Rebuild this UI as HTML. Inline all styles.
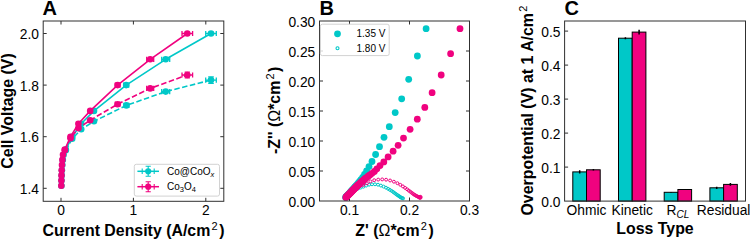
<!DOCTYPE html><html><head><meta charset="utf-8"><style>html,body{margin:0;padding:0;background:#fff;}svg{display:block;}text{font-family:"Liberation Sans",sans-serif;}</style></head><body>
<svg width="750" height="240" viewBox="0 0 750 240">
<rect width="750" height="240" fill="#fff"/>
<path d="M61.0,201.3v-3.5" stroke="#303030" stroke-width="1"/>
<path d="M61.0,21.0v3.5" stroke="#303030" stroke-width="1"/>
<path d="M133.4,201.3v-3.5" stroke="#303030" stroke-width="1"/>
<path d="M133.4,21.0v3.5" stroke="#303030" stroke-width="1"/>
<path d="M205.8,201.3v-3.5" stroke="#303030" stroke-width="1"/>
<path d="M205.8,21.0v3.5" stroke="#303030" stroke-width="1"/>
<path d="M43.2,188.3h3.5" stroke="#303030" stroke-width="1"/>
<path d="M223.8,188.3h-3.5" stroke="#303030" stroke-width="1"/>
<path d="M43.2,136.7h3.5" stroke="#303030" stroke-width="1"/>
<path d="M223.8,136.7h-3.5" stroke="#303030" stroke-width="1"/>
<path d="M43.2,85.1h3.5" stroke="#303030" stroke-width="1"/>
<path d="M223.8,85.1h-3.5" stroke="#303030" stroke-width="1"/>
<path d="M43.2,33.5h3.5" stroke="#303030" stroke-width="1"/>
<path d="M223.8,33.5h-3.5" stroke="#303030" stroke-width="1"/>
<polyline points="61.4,185.7 61.5,180.6 61.7,175.4 61.9,170.2 62.3,165.1 62.8,159.9 63.6,154.8 65.8,149.6 72.2,136.7 81.2,123.8 94.0,110.9 126.2,85.1 165.7,59.3 211.0,33.5" fill="none" stroke="#00c8c8" stroke-width="1.6" stroke-linejoin="round"/>
<polyline points="65.8,150.3 72.2,138.8 81.2,129.3 94.0,121.3 126.4,105.4 165.7,91.6 211.0,80.1" fill="none" stroke="#00c8c8" stroke-width="1.6" stroke-dasharray="5.5,2.5" stroke-linejoin="round"/>
<path d="M123.7,85.1H128.7M123.7,82.5V87.7M128.7,82.5V87.7" stroke="#00c8c8" stroke-width="1.3" fill="none"/>
<path d="M161.7,59.3H169.7M161.7,56.7V61.9M169.7,56.7V61.9" stroke="#00c8c8" stroke-width="1.3" fill="none"/>
<path d="M205.7,33.5H216.3M205.7,30.9V36.1M216.3,30.9V36.1" stroke="#00c8c8" stroke-width="1.3" fill="none"/>
<path d="M123.9,105.4H128.9M123.9,102.8V108.0M128.9,102.8V108.0" stroke="#00c8c8" stroke-width="1.3" fill="none"/>
<path d="M161.7,91.6H169.7M161.7,89.0V94.2M169.7,89.0V94.2" stroke="#00c8c8" stroke-width="1.3" fill="none"/>
<path d="M205.7,80.1H216.3M205.7,77.5V82.7M216.3,77.5V82.7" stroke="#00c8c8" stroke-width="1.3" fill="none"/>
<path d="M211.0,76.8V83.4M208.2,76.8H213.8M208.2,83.4H213.8" stroke="#00c8c8" stroke-width="1.3" fill="none"/>
<path d="M211.0,32.3V34.7M208.4,32.3H213.6M208.4,34.7H213.6" stroke="#00c8c8" stroke-width="1.3" fill="none"/>
<circle cx="61.4" cy="185.7" r="3.3" fill="#00c8c8"/>
<circle cx="61.5" cy="180.6" r="3.3" fill="#00c8c8"/>
<circle cx="61.7" cy="175.4" r="3.3" fill="#00c8c8"/>
<circle cx="61.9" cy="170.2" r="3.3" fill="#00c8c8"/>
<circle cx="62.3" cy="165.1" r="3.3" fill="#00c8c8"/>
<circle cx="62.8" cy="159.9" r="3.3" fill="#00c8c8"/>
<circle cx="63.6" cy="154.8" r="3.3" fill="#00c8c8"/>
<circle cx="65.8" cy="149.6" r="3.3" fill="#00c8c8"/>
<circle cx="72.2" cy="136.7" r="3.3" fill="#00c8c8"/>
<circle cx="81.2" cy="123.8" r="3.3" fill="#00c8c8"/>
<circle cx="94.0" cy="110.9" r="3.3" fill="#00c8c8"/>
<circle cx="126.2" cy="85.1" r="3.3" fill="#00c8c8"/>
<circle cx="165.7" cy="59.3" r="3.3" fill="#00c8c8"/>
<circle cx="211.0" cy="33.5" r="3.3" fill="#00c8c8"/>
<circle cx="65.8" cy="150.3" r="3.3" fill="#00c8c8"/>
<circle cx="72.2" cy="138.8" r="3.3" fill="#00c8c8"/>
<circle cx="81.2" cy="129.3" r="3.3" fill="#00c8c8"/>
<circle cx="94.0" cy="121.3" r="3.3" fill="#00c8c8"/>
<circle cx="126.4" cy="105.4" r="3.3" fill="#00c8c8"/>
<circle cx="165.7" cy="91.6" r="3.3" fill="#00c8c8"/>
<circle cx="211.0" cy="80.1" r="3.3" fill="#00c8c8"/>
<polyline points="61.3,185.7 61.4,180.6 61.5,175.4 61.7,170.2 62.0,165.1 62.4,159.9 63.0,154.8 64.8,149.6 70.5,136.7 78.4,123.8 90.2,110.9 117.6,85.1 150.2,59.3 187.3,33.5" fill="none" stroke="#f0027f" stroke-width="1.6" stroke-linejoin="round"/>
<polyline points="64.8,150.2 70.5,138.2 78.4,128.2 90.2,120.2 117.6,104.2 150.2,88.4 187.3,75.0" fill="none" stroke="#f0027f" stroke-width="1.6" stroke-dasharray="5.5,2.5" stroke-linejoin="round"/>
<path d="M115.3,85.1H119.9M115.3,82.5V87.7M119.9,82.5V87.7" stroke="#f0027f" stroke-width="1.3" fill="none"/>
<path d="M146.7,59.3H153.7M146.7,56.7V61.9M153.7,56.7V61.9" stroke="#f0027f" stroke-width="1.3" fill="none"/>
<path d="M182.0,33.5H192.6M182.0,30.9V36.1M192.6,30.9V36.1" stroke="#f0027f" stroke-width="1.3" fill="none"/>
<path d="M115.3,104.2H119.9M115.3,101.6V106.8M119.9,101.6V106.8" stroke="#f0027f" stroke-width="1.3" fill="none"/>
<path d="M146.7,88.4H153.7M146.7,85.8V91.0M153.7,85.8V91.0" stroke="#f0027f" stroke-width="1.3" fill="none"/>
<path d="M182.0,75.0H192.6M182.0,72.4V77.6M192.6,72.4V77.6" stroke="#f0027f" stroke-width="1.3" fill="none"/>
<path d="M187.3,72.1V77.9M184.7,72.1H189.9M184.7,77.9H189.9" stroke="#f0027f" stroke-width="1.3" fill="none"/>
<circle cx="61.3" cy="185.7" r="3.3" fill="#f0027f"/>
<circle cx="61.4" cy="180.6" r="3.3" fill="#f0027f"/>
<circle cx="61.5" cy="175.4" r="3.3" fill="#f0027f"/>
<circle cx="61.7" cy="170.2" r="3.3" fill="#f0027f"/>
<circle cx="62.0" cy="165.1" r="3.3" fill="#f0027f"/>
<circle cx="62.4" cy="159.9" r="3.3" fill="#f0027f"/>
<circle cx="63.0" cy="154.8" r="3.3" fill="#f0027f"/>
<circle cx="64.8" cy="149.6" r="3.3" fill="#f0027f"/>
<circle cx="70.5" cy="136.7" r="3.3" fill="#f0027f"/>
<circle cx="78.4" cy="123.8" r="3.3" fill="#f0027f"/>
<circle cx="90.2" cy="110.9" r="3.3" fill="#f0027f"/>
<circle cx="117.6" cy="85.1" r="3.3" fill="#f0027f"/>
<circle cx="150.2" cy="59.3" r="3.3" fill="#f0027f"/>
<circle cx="187.3" cy="33.5" r="3.3" fill="#f0027f"/>
<circle cx="64.8" cy="150.2" r="3.3" fill="#f0027f"/>
<circle cx="70.5" cy="138.2" r="3.3" fill="#f0027f"/>
<circle cx="78.4" cy="128.2" r="3.3" fill="#f0027f"/>
<circle cx="90.2" cy="120.2" r="3.3" fill="#f0027f"/>
<circle cx="117.6" cy="104.2" r="3.3" fill="#f0027f"/>
<circle cx="150.2" cy="88.4" r="3.3" fill="#f0027f"/>
<circle cx="187.3" cy="75.0" r="3.3" fill="#f0027f"/>
<rect x="43.2" y="21.0" width="180.60000000000002" height="180.3" fill="none" stroke="#303030" stroke-width="1"/>
<text x="61.0" y="215.0" font-size="13.8" text-anchor="middle" font-weight="normal" fill="#000" >0</text>
<text x="133.4" y="215.0" font-size="13.8" text-anchor="middle" font-weight="normal" fill="#000" >1</text>
<text x="205.8" y="215.0" font-size="13.8" text-anchor="middle" font-weight="normal" fill="#000" >2</text>
<text x="39.0" y="193.9" font-size="13.8" text-anchor="end" font-weight="normal" fill="#000" >1.4</text>
<text x="39.0" y="142.3" font-size="13.8" text-anchor="end" font-weight="normal" fill="#000" >1.6</text>
<text x="39.0" y="90.7" font-size="13.8" text-anchor="end" font-weight="normal" fill="#000" >1.8</text>
<text x="39.0" y="39.1" font-size="13.8" text-anchor="end" font-weight="normal" fill="#000" >2.0</text>
<text x="133.5" y="236.0" font-size="15.9" text-anchor="middle" font-weight="bold" fill="#000" >Current Density (A/cm<tspan font-size="11" dy="-6" dx="1.2" font-weight="normal">2</tspan><tspan dy="6" dx="1.5">)</tspan></text>
<text transform="translate(12.8,111) rotate(-90)" font-size="15.9" text-anchor="middle" font-weight="bold">Cell Voltage (V)</text>
<text x="42.6" y="14.9" font-size="20" text-anchor="start" font-weight="bold" fill="#000" >A</text>
<rect x="134.3" y="164.3" width="85.2" height="31.8" rx="2" ry="2" fill="#fff" fill-opacity="0.8" stroke="#d2d2d2" stroke-width="1"/>
<path d="M137.39999999999998,171.3H159.0" stroke="#00c8c8" stroke-width="1.5" fill="none"/>
<path d="M148.2,166.3V176.3M142.2,168.5V174.10000000000002M154.2,168.5V174.10000000000002M145.6,166.3h5.2M145.6,176.3h5.2" stroke="#00c8c8" stroke-width="1.1" fill="none"/>
<circle cx="148.2" cy="171.3" r="3.1" fill="#00c8c8"/>
<path d="M137.39999999999998,186.7H159.0" stroke="#f0027f" stroke-width="1.5" fill="none"/>
<path d="M148.2,181.7V191.7M142.2,183.89999999999998V189.5M154.2,183.89999999999998V189.5M145.6,181.7h5.2M145.6,191.7h5.2" stroke="#f0027f" stroke-width="1.1" fill="none"/>
<circle cx="148.2" cy="186.7" r="3.1" fill="#f0027f"/>
<text x="167.0" y="175.2" font-size="10" text-anchor="start" font-weight="normal" fill="#000" >Co@CoO<tspan font-size="7.5" font-style="italic" dy="2">x</tspan></text>
<text x="167.0" y="190.3" font-size="10" text-anchor="start" font-weight="normal" fill="#000" >Co<tspan font-size="7.5" dy="2">3</tspan><tspan dy="-2">O</tspan><tspan font-size="7.5" dy="2">4</tspan></text>
<path d="M349.5,201.0v-3.5" stroke="#303030" stroke-width="1"/>
<path d="M349.5,21.0v3.5" stroke="#303030" stroke-width="1"/>
<path d="M409.5,201.0v-3.5" stroke="#303030" stroke-width="1"/>
<path d="M409.5,21.0v3.5" stroke="#303030" stroke-width="1"/>
<path d="M319.5,171.0h3.5" stroke="#303030" stroke-width="1"/>
<path d="M469.5,171.0h-3.5" stroke="#303030" stroke-width="1"/>
<path d="M319.5,141.0h3.5" stroke="#303030" stroke-width="1"/>
<path d="M469.5,141.0h-3.5" stroke="#303030" stroke-width="1"/>
<path d="M319.5,111.0h3.5" stroke="#303030" stroke-width="1"/>
<path d="M469.5,111.0h-3.5" stroke="#303030" stroke-width="1"/>
<path d="M319.5,81.0h3.5" stroke="#303030" stroke-width="1"/>
<path d="M469.5,81.0h-3.5" stroke="#303030" stroke-width="1"/>
<path d="M319.5,51.0h3.5" stroke="#303030" stroke-width="1"/>
<path d="M469.5,51.0h-3.5" stroke="#303030" stroke-width="1"/>
<circle cx="345.6" cy="197.3" r="3.4" fill="#00c8c8"/>
<circle cx="346.0" cy="196.8" r="3.4" fill="#00c8c8"/>
<circle cx="346.5" cy="196.3" r="3.4" fill="#00c8c8"/>
<circle cx="347.0" cy="195.8" r="3.4" fill="#00c8c8"/>
<circle cx="347.5" cy="195.3" r="3.4" fill="#00c8c8"/>
<circle cx="348.0" cy="194.8" r="3.4" fill="#00c8c8"/>
<circle cx="348.5" cy="194.3" r="3.4" fill="#00c8c8"/>
<circle cx="348.9" cy="193.8" r="3.4" fill="#00c8c8"/>
<circle cx="349.4" cy="193.3" r="3.4" fill="#00c8c8"/>
<circle cx="349.9" cy="192.8" r="3.4" fill="#00c8c8"/>
<circle cx="350.4" cy="192.2" r="3.4" fill="#00c8c8"/>
<circle cx="350.8" cy="191.7" r="3.4" fill="#00c8c8"/>
<circle cx="351.3" cy="191.2" r="3.4" fill="#00c8c8"/>
<circle cx="351.8" cy="190.7" r="3.4" fill="#00c8c8"/>
<circle cx="352.2" cy="190.2" r="3.4" fill="#00c8c8"/>
<circle cx="352.7" cy="189.6" r="3.4" fill="#00c8c8"/>
<circle cx="353.2" cy="189.1" r="3.4" fill="#00c8c8"/>
<circle cx="353.6" cy="188.6" r="3.4" fill="#00c8c8"/>
<circle cx="354.1" cy="188.1" r="3.4" fill="#00c8c8"/>
<circle cx="354.6" cy="187.5" r="3.4" fill="#00c8c8"/>
<circle cx="355.1" cy="186.9" r="3.4" fill="#00c8c8"/>
<circle cx="355.7" cy="186.2" r="3.4" fill="#00c8c8"/>
<circle cx="356.4" cy="185.3" r="3.4" fill="#00c8c8"/>
<circle cx="357.3" cy="184.3" r="3.4" fill="#00c8c8"/>
<circle cx="358.4" cy="183.0" r="3.4" fill="#00c8c8"/>
<circle cx="359.6" cy="181.5" r="3.4" fill="#00c8c8"/>
<circle cx="361.0" cy="179.6" r="3.4" fill="#00c8c8"/>
<circle cx="362.7" cy="177.3" r="3.4" fill="#00c8c8"/>
<circle cx="364.5" cy="174.4" r="3.4" fill="#00c8c8"/>
<circle cx="366.6" cy="170.9" r="3.4" fill="#00c8c8"/>
<circle cx="369.0" cy="166.6" r="3.4" fill="#00c8c8"/>
<circle cx="372.0" cy="161.5" r="3.4" fill="#00c8c8"/>
<circle cx="375.6" cy="154.5" r="3.4" fill="#00c8c8"/>
<circle cx="379.5" cy="146.7" r="3.4" fill="#00c8c8"/>
<circle cx="384.0" cy="137.3" r="3.4" fill="#00c8c8"/>
<circle cx="389.3" cy="126.7" r="3.4" fill="#00c8c8"/>
<circle cx="395.2" cy="112.6" r="3.4" fill="#00c8c8"/>
<circle cx="401.7" cy="98.8" r="3.4" fill="#00c8c8"/>
<circle cx="408.7" cy="79.3" r="3.4" fill="#00c8c8"/>
<circle cx="417.4" cy="56.0" r="3.4" fill="#00c8c8"/>
<circle cx="426.1" cy="28.7" r="3.4" fill="#00c8c8"/>
<circle cx="345.3" cy="197.8" r="1.45" fill="none" stroke="#00c8c8" stroke-width="1.0"/>
<circle cx="346.0" cy="197.1" r="1.45" fill="none" stroke="#00c8c8" stroke-width="1.0"/>
<circle cx="346.8" cy="196.4" r="1.45" fill="none" stroke="#00c8c8" stroke-width="1.0"/>
<circle cx="347.7" cy="195.5" r="1.45" fill="none" stroke="#00c8c8" stroke-width="1.0"/>
<circle cx="348.7" cy="194.6" r="1.45" fill="none" stroke="#00c8c8" stroke-width="1.0"/>
<circle cx="349.8" cy="193.7" r="1.45" fill="none" stroke="#00c8c8" stroke-width="1.0"/>
<circle cx="351.1" cy="192.7" r="1.45" fill="none" stroke="#00c8c8" stroke-width="1.0"/>
<circle cx="352.5" cy="191.6" r="1.45" fill="none" stroke="#00c8c8" stroke-width="1.0"/>
<circle cx="354.2" cy="190.6" r="1.45" fill="none" stroke="#00c8c8" stroke-width="1.0"/>
<circle cx="356.1" cy="189.5" r="1.45" fill="none" stroke="#00c8c8" stroke-width="1.0"/>
<circle cx="358.2" cy="188.5" r="1.45" fill="none" stroke="#00c8c8" stroke-width="1.0"/>
<circle cx="360.7" cy="187.6" r="1.45" fill="none" stroke="#00c8c8" stroke-width="1.0"/>
<circle cx="363.4" cy="186.7" r="1.45" fill="none" stroke="#00c8c8" stroke-width="1.0"/>
<circle cx="366.2" cy="185.6" r="1.45" fill="none" stroke="#00c8c8" stroke-width="1.0"/>
<circle cx="369.1" cy="184.7" r="1.45" fill="none" stroke="#00c8c8" stroke-width="1.0"/>
<circle cx="372.0" cy="184.3" r="1.45" fill="none" stroke="#00c8c8" stroke-width="1.0"/>
<circle cx="375.0" cy="184.3" r="1.45" fill="none" stroke="#00c8c8" stroke-width="1.0"/>
<circle cx="378.0" cy="184.7" r="1.45" fill="none" stroke="#00c8c8" stroke-width="1.0"/>
<circle cx="380.9" cy="185.6" r="1.45" fill="none" stroke="#00c8c8" stroke-width="1.0"/>
<circle cx="383.6" cy="186.6" r="1.45" fill="none" stroke="#00c8c8" stroke-width="1.0"/>
<circle cx="386.0" cy="187.7" r="1.45" fill="none" stroke="#00c8c8" stroke-width="1.0"/>
<circle cx="388.1" cy="188.8" r="1.45" fill="none" stroke="#00c8c8" stroke-width="1.0"/>
<circle cx="389.9" cy="189.9" r="1.45" fill="none" stroke="#00c8c8" stroke-width="1.0"/>
<circle cx="391.6" cy="190.9" r="1.45" fill="none" stroke="#00c8c8" stroke-width="1.0"/>
<circle cx="393.1" cy="191.9" r="1.45" fill="none" stroke="#00c8c8" stroke-width="1.0"/>
<circle cx="394.4" cy="192.9" r="1.45" fill="none" stroke="#00c8c8" stroke-width="1.0"/>
<circle cx="395.6" cy="193.8" r="1.45" fill="none" stroke="#00c8c8" stroke-width="1.0"/>
<circle cx="396.7" cy="194.6" r="1.45" fill="none" stroke="#00c8c8" stroke-width="1.0"/>
<circle cx="397.7" cy="195.3" r="1.45" fill="none" stroke="#00c8c8" stroke-width="1.0"/>
<circle cx="398.7" cy="195.9" r="1.45" fill="none" stroke="#00c8c8" stroke-width="1.0"/>
<circle cx="399.5" cy="196.5" r="1.45" fill="none" stroke="#00c8c8" stroke-width="1.0"/>
<circle cx="400.2" cy="197.0" r="1.45" fill="none" stroke="#00c8c8" stroke-width="1.0"/>
<circle cx="400.9" cy="197.5" r="1.45" fill="none" stroke="#00c8c8" stroke-width="1.0"/>
<circle cx="401.7" cy="197.8" r="1.45" fill="none" stroke="#00c8c8" stroke-width="1.0"/>
<circle cx="402.4" cy="198.1" r="1.45" fill="none" stroke="#00c8c8" stroke-width="1.0"/>
<circle cx="403.1" cy="198.4" r="1.45" fill="none" stroke="#00c8c8" stroke-width="1.0"/>
<circle cx="345.8" cy="197.4" r="3.4" fill="#f0027f"/>
<circle cx="346.3" cy="196.9" r="3.4" fill="#f0027f"/>
<circle cx="346.8" cy="196.4" r="3.4" fill="#f0027f"/>
<circle cx="347.3" cy="195.9" r="3.4" fill="#f0027f"/>
<circle cx="347.8" cy="195.4" r="3.4" fill="#f0027f"/>
<circle cx="348.3" cy="194.9" r="3.4" fill="#f0027f"/>
<circle cx="348.8" cy="194.4" r="3.4" fill="#f0027f"/>
<circle cx="349.3" cy="193.9" r="3.4" fill="#f0027f"/>
<circle cx="349.8" cy="193.4" r="3.4" fill="#f0027f"/>
<circle cx="350.3" cy="192.9" r="3.4" fill="#f0027f"/>
<circle cx="350.8" cy="192.4" r="3.4" fill="#f0027f"/>
<circle cx="351.3" cy="191.9" r="3.4" fill="#f0027f"/>
<circle cx="351.7" cy="191.5" r="3.4" fill="#f0027f"/>
<circle cx="352.2" cy="191.0" r="3.4" fill="#f0027f"/>
<circle cx="352.7" cy="190.5" r="3.4" fill="#f0027f"/>
<circle cx="353.2" cy="190.0" r="3.4" fill="#f0027f"/>
<circle cx="353.7" cy="189.5" r="3.4" fill="#f0027f"/>
<circle cx="354.2" cy="189.0" r="3.4" fill="#f0027f"/>
<circle cx="354.7" cy="188.5" r="3.4" fill="#f0027f"/>
<circle cx="355.2" cy="188.0" r="3.4" fill="#f0027f"/>
<circle cx="355.7" cy="187.5" r="3.4" fill="#f0027f"/>
<circle cx="356.2" cy="187.0" r="3.4" fill="#f0027f"/>
<circle cx="356.7" cy="186.5" r="3.4" fill="#f0027f"/>
<circle cx="357.2" cy="186.0" r="3.4" fill="#f0027f"/>
<circle cx="357.7" cy="185.5" r="3.4" fill="#f0027f"/>
<circle cx="358.2" cy="185.0" r="3.4" fill="#f0027f"/>
<circle cx="358.7" cy="184.6" r="3.4" fill="#f0027f"/>
<circle cx="359.2" cy="184.1" r="3.4" fill="#f0027f"/>
<circle cx="359.7" cy="183.6" r="3.4" fill="#f0027f"/>
<circle cx="360.2" cy="183.1" r="3.4" fill="#f0027f"/>
<circle cx="360.7" cy="182.6" r="3.4" fill="#f0027f"/>
<circle cx="361.3" cy="182.2" r="3.4" fill="#f0027f"/>
<circle cx="361.8" cy="181.7" r="3.4" fill="#f0027f"/>
<circle cx="362.3" cy="181.2" r="3.4" fill="#f0027f"/>
<circle cx="362.8" cy="180.8" r="3.4" fill="#f0027f"/>
<circle cx="363.4" cy="180.3" r="3.4" fill="#f0027f"/>
<circle cx="364.0" cy="179.7" r="3.4" fill="#f0027f"/>
<circle cx="364.8" cy="179.0" r="3.4" fill="#f0027f"/>
<circle cx="365.7" cy="178.2" r="3.4" fill="#f0027f"/>
<circle cx="366.9" cy="177.3" r="3.4" fill="#f0027f"/>
<circle cx="368.2" cy="176.2" r="3.4" fill="#f0027f"/>
<circle cx="369.9" cy="174.9" r="3.4" fill="#f0027f"/>
<circle cx="372.0" cy="173.3" r="3.4" fill="#f0027f"/>
<circle cx="374.4" cy="171.5" r="3.4" fill="#f0027f"/>
<circle cx="376.9" cy="168.8" r="3.4" fill="#f0027f"/>
<circle cx="380.0" cy="165.6" r="3.4" fill="#f0027f"/>
<circle cx="383.8" cy="161.9" r="3.4" fill="#f0027f"/>
<circle cx="388.1" cy="156.9" r="3.4" fill="#f0027f"/>
<circle cx="393.1" cy="151.2" r="3.4" fill="#f0027f"/>
<circle cx="398.1" cy="145.3" r="3.4" fill="#f0027f"/>
<circle cx="403.5" cy="138.1" r="3.4" fill="#f0027f"/>
<circle cx="410.1" cy="129.3" r="3.4" fill="#f0027f"/>
<circle cx="417.3" cy="119.2" r="3.4" fill="#f0027f"/>
<circle cx="424.8" cy="107.4" r="3.4" fill="#f0027f"/>
<circle cx="432.1" cy="92.7" r="3.4" fill="#f0027f"/>
<circle cx="441.2" cy="75.0" r="3.4" fill="#f0027f"/>
<circle cx="450.6" cy="53.7" r="3.4" fill="#f0027f"/>
<circle cx="460.0" cy="28.7" r="3.4" fill="#f0027f"/>
<circle cx="345.6" cy="197.8" r="1.45" fill="none" stroke="#f0027f" stroke-width="1.0"/>
<circle cx="346.5" cy="197.0" r="1.45" fill="none" stroke="#f0027f" stroke-width="1.0"/>
<circle cx="347.4" cy="196.0" r="1.45" fill="none" stroke="#f0027f" stroke-width="1.0"/>
<circle cx="348.5" cy="194.9" r="1.45" fill="none" stroke="#f0027f" stroke-width="1.0"/>
<circle cx="349.8" cy="193.7" r="1.45" fill="none" stroke="#f0027f" stroke-width="1.0"/>
<circle cx="351.2" cy="192.5" r="1.45" fill="none" stroke="#f0027f" stroke-width="1.0"/>
<circle cx="352.9" cy="191.0" r="1.45" fill="none" stroke="#f0027f" stroke-width="1.0"/>
<circle cx="354.8" cy="189.4" r="1.45" fill="none" stroke="#f0027f" stroke-width="1.0"/>
<circle cx="357.2" cy="187.9" r="1.45" fill="none" stroke="#f0027f" stroke-width="1.0"/>
<circle cx="359.9" cy="186.2" r="1.45" fill="none" stroke="#f0027f" stroke-width="1.0"/>
<circle cx="363.3" cy="185.0" r="1.45" fill="none" stroke="#f0027f" stroke-width="1.0"/>
<circle cx="366.9" cy="183.3" r="1.45" fill="none" stroke="#f0027f" stroke-width="1.0"/>
<circle cx="370.4" cy="181.4" r="1.45" fill="none" stroke="#f0027f" stroke-width="1.0"/>
<circle cx="374.2" cy="180.2" r="1.45" fill="none" stroke="#f0027f" stroke-width="1.0"/>
<circle cx="378.2" cy="179.6" r="1.45" fill="none" stroke="#f0027f" stroke-width="1.0"/>
<circle cx="382.2" cy="179.4" r="1.45" fill="none" stroke="#f0027f" stroke-width="1.0"/>
<circle cx="386.1" cy="179.7" r="1.45" fill="none" stroke="#f0027f" stroke-width="1.0"/>
<circle cx="390.1" cy="180.5" r="1.45" fill="none" stroke="#f0027f" stroke-width="1.0"/>
<circle cx="393.9" cy="181.7" r="1.45" fill="none" stroke="#f0027f" stroke-width="1.0"/>
<circle cx="397.4" cy="183.2" r="1.45" fill="none" stroke="#f0027f" stroke-width="1.0"/>
<circle cx="400.3" cy="184.8" r="1.45" fill="none" stroke="#f0027f" stroke-width="1.0"/>
<circle cx="402.9" cy="186.4" r="1.45" fill="none" stroke="#f0027f" stroke-width="1.0"/>
<circle cx="405.1" cy="187.9" r="1.45" fill="none" stroke="#f0027f" stroke-width="1.0"/>
<circle cx="407.1" cy="189.3" r="1.45" fill="none" stroke="#f0027f" stroke-width="1.0"/>
<circle cx="408.8" cy="190.6" r="1.45" fill="none" stroke="#f0027f" stroke-width="1.0"/>
<circle cx="410.3" cy="191.7" r="1.45" fill="none" stroke="#f0027f" stroke-width="1.0"/>
<circle cx="411.6" cy="192.7" r="1.45" fill="none" stroke="#f0027f" stroke-width="1.0"/>
<circle cx="412.8" cy="193.6" r="1.45" fill="none" stroke="#f0027f" stroke-width="1.0"/>
<circle cx="413.8" cy="194.4" r="1.45" fill="none" stroke="#f0027f" stroke-width="1.0"/>
<circle cx="414.8" cy="195.0" r="1.45" fill="none" stroke="#f0027f" stroke-width="1.0"/>
<circle cx="415.7" cy="195.5" r="1.45" fill="none" stroke="#f0027f" stroke-width="1.0"/>
<circle cx="416.5" cy="196.0" r="1.45" fill="none" stroke="#f0027f" stroke-width="1.0"/>
<circle cx="417.3" cy="196.4" r="1.45" fill="none" stroke="#f0027f" stroke-width="1.0"/>
<circle cx="418.1" cy="196.8" r="1.45" fill="none" stroke="#f0027f" stroke-width="1.0"/>
<circle cx="419.0" cy="197.1" r="1.45" fill="none" stroke="#f0027f" stroke-width="1.0"/>
<circle cx="419.8" cy="197.3" r="1.45" fill="none" stroke="#f0027f" stroke-width="1.0"/>
<circle cx="420.0" cy="197.3" r="1.45" fill="none" stroke="#f0027f" stroke-width="1.0"/>
<circle cx="420.6" cy="196.8" r="1.45" fill="none" stroke="#f0027f" stroke-width="1.0"/>
<circle cx="419.6" cy="197.9" r="1.45" fill="none" stroke="#f0027f" stroke-width="1.0"/>
<circle cx="420.5" cy="197.8" r="1.45" fill="none" stroke="#f0027f" stroke-width="1.0"/>
<rect x="319.5" y="21.0" width="150.0" height="180.0" fill="none" stroke="#303030" stroke-width="1"/>
<text x="349.5" y="215.0" font-size="13.8" text-anchor="middle" font-weight="normal" fill="#000" >0.1</text>
<text x="409.5" y="215.0" font-size="13.8" text-anchor="middle" font-weight="normal" fill="#000" >0.2</text>
<text x="469.5" y="215.0" font-size="13.8" text-anchor="middle" font-weight="normal" fill="#000" >0.3</text>
<text x="315.3" y="206.6" font-size="13.8" text-anchor="end" font-weight="normal" fill="#000" >0.00</text>
<text x="315.3" y="176.6" font-size="13.8" text-anchor="end" font-weight="normal" fill="#000" >0.05</text>
<text x="315.3" y="146.6" font-size="13.8" text-anchor="end" font-weight="normal" fill="#000" >0.10</text>
<text x="315.3" y="116.6" font-size="13.8" text-anchor="end" font-weight="normal" fill="#000" >0.15</text>
<text x="315.3" y="86.6" font-size="13.8" text-anchor="end" font-weight="normal" fill="#000" >0.20</text>
<text x="315.3" y="56.6" font-size="13.8" text-anchor="end" font-weight="normal" fill="#000" >0.25</text>
<text x="315.3" y="26.6" font-size="13.8" text-anchor="end" font-weight="normal" fill="#000" >0.30</text>
<text x="394.5" y="236.0" font-size="15.9" text-anchor="middle" font-weight="bold" fill="#000" >Z' (<tspan font-weight="normal">Ω</tspan>*cm<tspan font-size="11" dy="-6" dx="1.2" font-weight="normal">2</tspan><tspan dy="6" dx="1.5">)</tspan></text>
<text transform="translate(280,110.3) rotate(-90)" font-size="15.9" text-anchor="middle" font-weight="bold">-Z'' (<tspan font-weight="normal">Ω</tspan>*cm<tspan font-size="11" dy="-6" dx="1.2" font-weight="normal">2</tspan><tspan dy="6" dx="1.5">)</tspan></text>
<text x="319.4" y="14.9" font-size="20" text-anchor="start" font-weight="bold" fill="#000" >B</text>
<rect x="320.4" y="24.2" width="68.8" height="31.4" rx="2" ry="2" fill="#fff" fill-opacity="0.8" stroke="#d2d2d2" stroke-width="1"/>
<circle cx="337.5" cy="33.8" r="3.4" fill="#00c8c8"/>
<circle cx="337.5" cy="48.3" r="1.5" fill="none" stroke="#00c8c8" stroke-width="1.1"/>
<text x="356.5" y="37.3" font-size="10" text-anchor="start" font-weight="normal" fill="#000" >1.35 V</text>
<text x="356.5" y="51.8" font-size="10" text-anchor="start" font-weight="normal" fill="#000" >1.80 V</text>
<rect x="572.8" y="171.9" width="13.7" height="29.2" fill="#00c8c8" stroke="#000" stroke-width="1"/>
<rect x="586.5" y="169.8" width="13.7" height="31.3" fill="#f0027f" stroke="#000" stroke-width="1"/>
<path d="M579.7,173.6V170.2M593.4,170.5V169.1" stroke="#000" stroke-width="1.5"/>
<rect x="618.5" y="38.2" width="13.7" height="162.9" fill="#00c8c8" stroke="#000" stroke-width="1"/>
<rect x="632.2" y="32.1" width="13.7" height="169.0" fill="#f0027f" stroke="#000" stroke-width="1"/>
<path d="M625.4,39.3V37.2M639.1,34.5V29.7" stroke="#000" stroke-width="1.5"/>
<rect x="664.2" y="192.3" width="13.7" height="8.8" fill="#00c8c8" stroke="#000" stroke-width="1"/>
<rect x="677.9" y="189.5" width="13.7" height="11.6" fill="#f0027f" stroke="#000" stroke-width="1"/>
<path d="M671.0,192.6V191.9M684.7,189.9V189.2" stroke="#000" stroke-width="1.5"/>
<rect x="709.9" y="187.8" width="13.7" height="13.3" fill="#00c8c8" stroke="#000" stroke-width="1"/>
<rect x="723.6" y="184.4" width="13.7" height="16.7" fill="#f0027f" stroke="#000" stroke-width="1"/>
<path d="M716.7,188.9V186.8M730.4,185.8V183.1" stroke="#000" stroke-width="1.5"/>
<path d="M564.6,167.1h3.5" stroke="#303030" stroke-width="1"/>
<path d="M564.6,133.1h3.5" stroke="#303030" stroke-width="1"/>
<path d="M564.6,99.1h3.5" stroke="#303030" stroke-width="1"/>
<path d="M564.6,65.1h3.5" stroke="#303030" stroke-width="1"/>
<path d="M564.6,31.1h3.5" stroke="#303030" stroke-width="1"/>
<rect x="564.6" y="21.0" width="180.89999999999998" height="180.1" fill="none" stroke="#303030" stroke-width="1"/>
<text x="560.4" y="206.7" font-size="13.8" text-anchor="end" font-weight="normal" fill="#000" >0.0</text>
<text x="560.4" y="172.7" font-size="13.8" text-anchor="end" font-weight="normal" fill="#000" >0.1</text>
<text x="560.4" y="138.7" font-size="13.8" text-anchor="end" font-weight="normal" fill="#000" >0.2</text>
<text x="560.4" y="104.7" font-size="13.8" text-anchor="end" font-weight="normal" fill="#000" >0.3</text>
<text x="560.4" y="70.7" font-size="13.8" text-anchor="end" font-weight="normal" fill="#000" >0.4</text>
<text x="560.4" y="36.7" font-size="13.8" text-anchor="end" font-weight="normal" fill="#000" >0.5</text>
<text x="586.5" y="215.0" font-size="13.8" text-anchor="middle" font-weight="normal" fill="#000" >Ohmic</text>
<text x="632.2" y="215.0" font-size="13.8" text-anchor="middle" font-weight="normal" fill="#000" >Kinetic</text>
<text x="677.9" y="215.0" font-size="13.8" text-anchor="middle" font-weight="normal" fill="#000" >R<tspan font-size="10" font-style="italic" dy="3">CL</tspan></text>
<text x="723.6" y="215.0" font-size="13.8" text-anchor="middle" font-weight="normal" fill="#000" >Residual</text>
<text x="655.0" y="233.6" font-size="15.9" text-anchor="middle" font-weight="bold" fill="#000" >Loss Type</text>
<text transform="translate(532.8,110.6) rotate(-90)" font-size="15.9" text-anchor="middle" font-weight="bold">Overpotential (V) at 1 A/cm<tspan font-size="11" dy="-6" dx="1.2" font-weight="normal">2</tspan></text>
<text x="564.6" y="14.9" font-size="20" text-anchor="start" font-weight="bold" fill="#000" >C</text>
</svg></body></html>
